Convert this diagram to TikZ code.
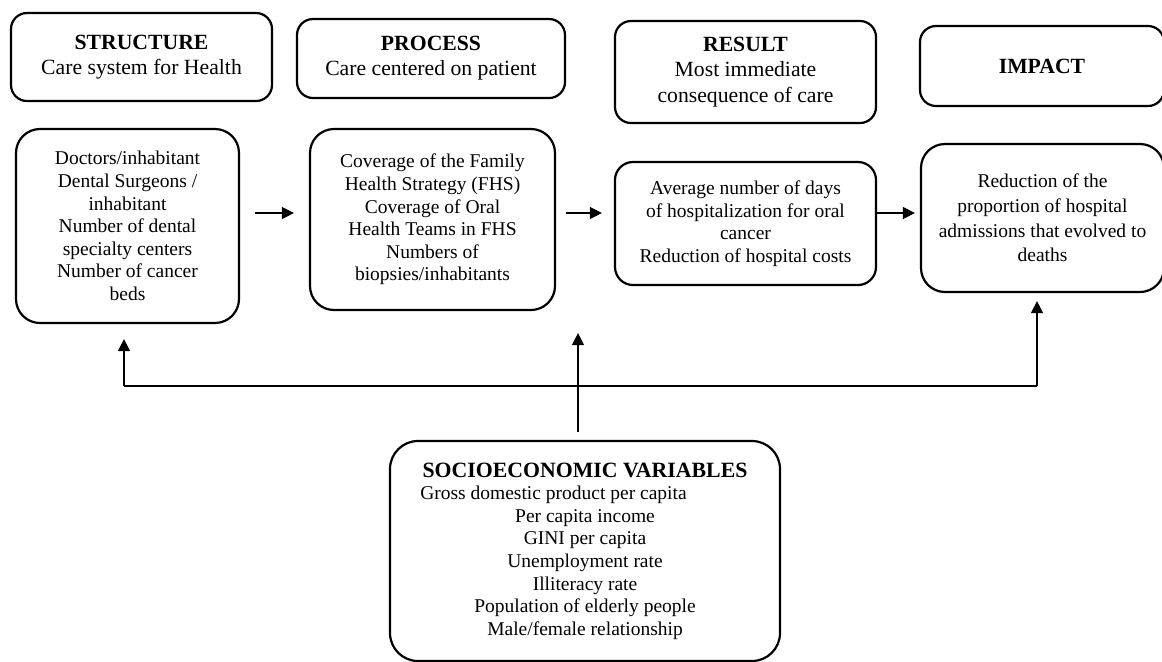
\documentclass[tikz,border=0pt]{standalone}
\usepackage{fontspec}
\setmainfont{Liberation Serif}
\usetikzlibrary{arrows.meta}
\tikzset{
  headbox/.style={draw, line width=1.1pt, rounded corners=8pt, align=center, inner sep=0pt,
    font=\fontsize{10.85}{12.6}\selectfont},
  bodybox/.style={draw, line width=1.1pt, rounded corners=12pt, align=center, inner sep=0pt,
    font=\fontsize{9.75}{11.3}\selectfont},
  arr/.style={-{Triangle[length=6pt,width=6pt]}, line width=0.65pt}
}
\begin{document}
\begin{tikzpicture}[x=0.5pt,y=-0.5pt]
\useasboundingbox (0,0) rectangle (1162,661);
% headings
\node[headbox, minimum width=130.5pt, minimum height=44pt] (hStruct) at (141.5,57) {\textbf{STRUCTURE}\\Care system for Health};
\node[headbox, minimum width=134pt, minimum height=39.5pt] (hProc) at (431,58.5) {\textbf{PROCESS}\\Care centered on patient};
\node[headbox, minimum width=130.5pt, minimum height=51pt] (hRes) at (745.5,72) {\textbf{RESULT}\\Most immediate\\consequence of care};
\node[headbox, minimum width=122pt, minimum height=40pt] (hImp) at (1042,66) {\textbf{IMPACT}};
% indicators
\node[bodybox, minimum width=111.5pt, minimum height=97pt] (bStruct) at (127.5,226) {Doctors/inhabitant\\Dental Surgeons /\\inhabitant\\Number of dental\\specialty centers\\Number of cancer\\beds};
\node[bodybox, minimum width=122.5pt, minimum height=90.5pt] (bProc) at (432.5,219.5) {Coverage of the Family\\Health Strategy (FHS)\\Coverage of Oral\\Health Teams in FHS\\Numbers of\\biopsies/inhabitants};
\node[bodybox, rounded corners=9pt, minimum width=130.5pt, minimum height=61.5pt] (bRes) at (745.5,223.5) {Average number of days\\of hospitalization for oral\\cancer\\Reduction of hospital costs};
\node[bodybox, font=\fontsize{9.75}{12.4}\selectfont, minimum width=121.5pt, minimum height=74pt] (bImp) at (1042.5,218) {Reduction of the\\proportion of hospital\\admissions that evolved to\\deaths};
\node[bodybox, rounded corners=14pt, minimum width=195pt, minimum height=110pt] (socio) at (585,551) {{\fontsize{10.9}{11.3}\selectfont\bfseries SOCIOECONOMIC VARIABLES}\\Gross domestic product per capita\kern31.5pt\\Per capita income\\GINI per capita\\Unemployment rate\\Illiteracy rate\\Population of elderly people\\Male/female relationship};

\coordinate (row) at (0,213);
\draw[arr, shorten <=7.5pt, shorten >=7.5pt] (bStruct.east |- row) -- (bProc.west |- row);
\draw[arr, shorten <=5pt, shorten >=6pt] (bProc.east |- row) -- (bRes.west |- row);
\draw[arr, shorten >=2.5pt] (bRes.east |- row) -- (bImp.west |- row);

% feedback from socioeconomic variables
\coordinate (fbL) at (124,386);
\coordinate (fbM) at (578,386);
\coordinate (fbR) at (1037,386);
\draw[line width=0.65pt] (fbL) -- (fbR);
\draw[arr, shorten >=7.5pt] (fbL) -- (fbL |- bStruct.south);
\draw[arr, shorten >=4pt] (fbR) -- (fbR |- bImp.south);
\draw[arr, shorten <=4pt, shorten >=11pt] (socio.north -| fbM) -- (bProc.south -| fbM);
\end{tikzpicture}
\end{document}
